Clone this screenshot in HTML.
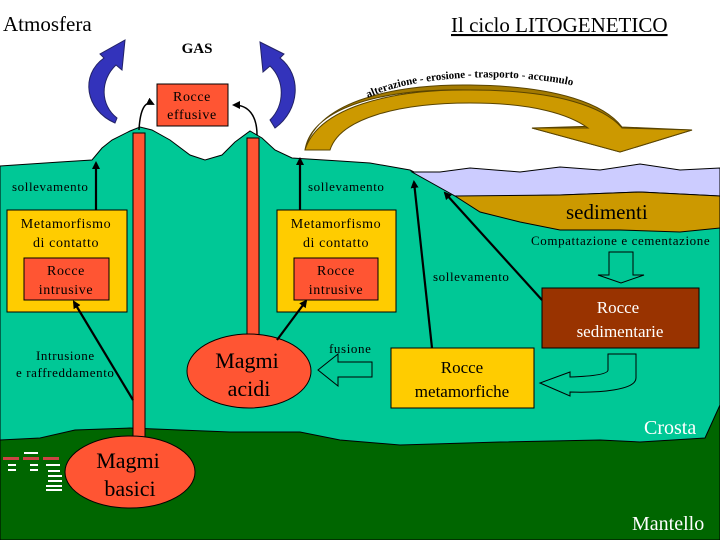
<!DOCTYPE html>
<html><head><meta charset="utf-8"><style>
html,body{margin:0;padding:0;background:#fff}
svg{display:block}
text{font-family:"Liberation Serif",serif}
.s{letter-spacing:0.6px}
</style></head><body>
<svg width="720" height="540" viewBox="0 0 720 540" xmlns="http://www.w3.org/2000/svg">
<rect width="720" height="540" fill="#fff"/>
<!-- crust -->
<path d="M0,166 L60,162 L92,160 L102,148 L112,140 L130,131 L140,127 L152,130 L170,140 L190,155 L205,160 L222,155 L235,142 L250,131 L262,138 L275,150 L292,158 L340,161 L370,163 L410,170 L450,190 L470,198 L720,198 L720,540 L0,540 Z" fill="#00c896" stroke="#000" stroke-width="1"/>
<!-- sea -->
<path d="M412,172 L440,172 L470,168 L520,172 L560,167 L600,170 L640,164 L680,170 L720,168 L720,196 L640,192 L560,195 L470,197 L455,196 Z" fill="#ccccff" stroke="#000" stroke-width="1"/>
<!-- sediments -->
<path d="M455,196 L560,195 L640,192 L720,196 L720,228 L680,232 L620,230 L560,230 L520,222 L480,212 Z" fill="#cc9900" stroke="#000" stroke-width="1"/>
<!-- mantle -->
<path d="M0,440 L40,438 L75,430 L130,428 L230,432 L300,432 L340,440 L400,445 L500,442 L600,440 L640,442 L705,438 L720,405 L720,540 L0,540 Z" fill="#006600" stroke="#000" stroke-width="1"/>
<!-- vents -->
<rect x="133" y="133" width="12" height="325" fill="#ff5533" stroke="#000" stroke-width="1"/>
<rect x="247" y="138" width="12" height="200" fill="#ff5533" stroke="#000" stroke-width="1"/>
<!-- ellipses -->
<ellipse cx="130" cy="472" rx="65" ry="36" fill="#ff5533" stroke="#000"/>
<text x="128" y="468" font-size="22" text-anchor="middle" fill="#000">Magmi</text>
<text x="130" y="496" font-size="22" text-anchor="middle" fill="#000">basici</text>
<ellipse cx="249" cy="371" rx="62" ry="37" fill="#ff5533" stroke="#000"/>
<text x="247" y="368" font-size="22" text-anchor="middle">Magmi</text>
<text x="249" y="396" font-size="22" text-anchor="middle">acidi</text>
<!-- boxes -->
<rect x="7" y="210" width="120" height="102" fill="#ffcc00" stroke="#000"/>
<rect x="24" y="258" width="85" height="42" fill="#ff5533" stroke="#000"/>
<g class="s">
<text x="66" y="228" font-size="14" text-anchor="middle">Metamorfismo</text>
<text x="66" y="247" font-size="14" text-anchor="middle">di contatto</text>
<text x="66" y="275" font-size="14" text-anchor="middle">Rocce</text>
<text x="66" y="294" font-size="14" text-anchor="middle">intrusive</text>
</g>
<rect x="277" y="210" width="119" height="102" fill="#ffcc00" stroke="#000"/>
<rect x="294" y="258" width="84" height="42" fill="#ff5533" stroke="#000"/>
<g class="s">
<text x="336" y="228" font-size="14" text-anchor="middle">Metamorfismo</text>
<text x="336" y="247" font-size="14" text-anchor="middle">di contatto</text>
<text x="336" y="275" font-size="14" text-anchor="middle">Rocce</text>
<text x="336" y="294" font-size="14" text-anchor="middle">intrusive</text>
</g>
<rect x="157" y="84" width="71" height="42" fill="#ff5533" stroke="#000"/>
<text class="s" x="192" y="101" font-size="14" text-anchor="middle">Rocce</text>
<text class="s" x="192" y="119" font-size="14" text-anchor="middle">effusive</text>
<rect x="542" y="288" width="157" height="60" fill="#993300" stroke="#000"/>
<text x="618" y="313" font-size="17" text-anchor="middle" fill="#fff">Rocce</text>
<text x="620" y="337" font-size="17" text-anchor="middle" fill="#fff">sedimentarie</text>
<rect x="391" y="348" width="143" height="60" fill="#ffcc00" stroke="#000"/>
<text x="462" y="373" font-size="17" text-anchor="middle">Rocce</text>
<text x="462" y="397" font-size="17" text-anchor="middle">metamorfiche</text>
<!-- labels -->
<text x="3" y="31" font-size="21">Atmosfera</text>
<text x="451" y="32" font-size="21" text-decoration="underline">Il ciclo LITOGENETICO</text>
<text x="197" y="53" font-size="15" font-weight="bold" text-anchor="middle">GAS</text>
<g class="s">
<text x="12" y="191" font-size="13">sollevamento</text>
<text x="308" y="191" font-size="13">sollevamento</text>
<text x="433" y="281" font-size="13">sollevamento</text>
<text x="531" y="245" font-size="13">Compattazione e cementazione</text>
<text x="36" y="360" font-size="13">Intrusione</text>
<text x="16" y="377" font-size="13">e raffreddamento</text>
<text x="329" y="353" font-size="13">fusione</text>
</g>
<text x="566" y="219" font-size="21">sedimenti</text>
<text x="644" y="434" font-size="20" fill="#fff">Crosta</text>
<text x="632" y="530" font-size="20" fill="#fff">Mantello</text>
<!-- black arrows -->
<defs><marker id="ah" markerWidth="8" markerHeight="8" refX="6" refY="4" orient="auto" markerUnits="userSpaceOnUse"><path d="M0,0 L8,4 L0,8 Z" fill="#000"/></marker></defs>
<g stroke="#000" stroke-width="2.2" fill="none" marker-end="url(#ah)">
<line x1="96" y1="210" x2="96" y2="163"/>
<line x1="300" y1="210" x2="300" y2="159"/>
<line x1="133" y1="400" x2="74" y2="302"/>
<line x1="277" y1="340" x2="306" y2="301"/>
<line x1="432" y1="348" x2="414" y2="182"/>
<line x1="542" y1="300" x2="445" y2="193"/>
<path d="M139,130 C140,110 145,100 153,104" stroke-width="1.5"/>
<path d="M257,135 C257,115 248,105 234,105" stroke-width="1.5"/>
</g>
<!-- blue arrows -->
<path d="M115,123 C85,110 80,75 104,58 L100,54 L125,40 L122,70 L116,65 C100,80 100,105 117,118 Z" fill="#3333bb" stroke="#222266"/>
<path d="M275,128 C300,110 302,75 280,58 L284,54 L260,42 L263,72 L270,66 C285,80 285,105 270,120 Z" fill="#3333bb" stroke="#222266"/>
<!-- gold arrow -->
<path d="M305,150 C312,105 390,88 470,90 C545,92 585,110 598,126 L532,128 L620,152 L692,130 L622,127 C605,105 560,86 470,85 C385,84 315,105 305,150 Z" fill="#a37a00" stroke="#5a4400"/>
<path d="M305,150 L330,150 C340,118 400,103 470,103 C535,103 570,115 588,128 L532,128 L620,152 L692,130 L622,128 C605,108 560,90 470,90 C390,89 318,108 305,150 Z" fill="#cc9900" stroke="#5a4400"/>
<path id="arc" d="M368,98 C420,72 540,70 605,95" fill="none"/>
<text font-family="Liberation Sans,sans-serif" font-size="11" font-weight="bold"><textPath href="#arc">alterazione - erosione - trasporto - accumulo</textPath></text>
<!-- hollow arrows -->
<path d="M372,362 L338,362 L338,354 L318,370 L338,386 L338,377 L372,377 Z" fill="none" stroke="#000" stroke-width="1"/>
<path d="M609,252 L633,252 L633,275 L644,275 L621,283 L598,275 L609,275 Z" fill="none" stroke="#000" stroke-width="1"/>
<path d="M636,354 L636,378 C636,390 600,393 570,392 L570,396 L540,383 L570,372 L570,377 C600,376 608,373 608,370 L608,354 Z" fill="none" stroke="#000" stroke-width="1"/>
<!-- legend bits -->
<g fill="#fff"><rect x="24" y="452" width="14" height="2"/><rect x="3" y="457" width="16" height="3" fill="#cc4444"/><rect x="23" y="457" width="16" height="3" fill="#cc4444"/><rect x="43" y="457" width="16" height="3" fill="#cc4444"/>
<rect x="8" y="464" width="8" height="2"/><rect x="30" y="464" width="8" height="2"/><rect x="46" y="464" width="14" height="2"/><rect x="8" y="469" width="8" height="2"/><rect x="30" y="469" width="8" height="2"/><rect x="48" y="470" width="12" height="2"/><rect x="48" y="475" width="14" height="2"/><rect x="48" y="480" width="14" height="2"/><rect x="46" y="485" width="16" height="2"/><rect x="46" y="489" width="16" height="2"/></g>
</svg>
</body></html>
